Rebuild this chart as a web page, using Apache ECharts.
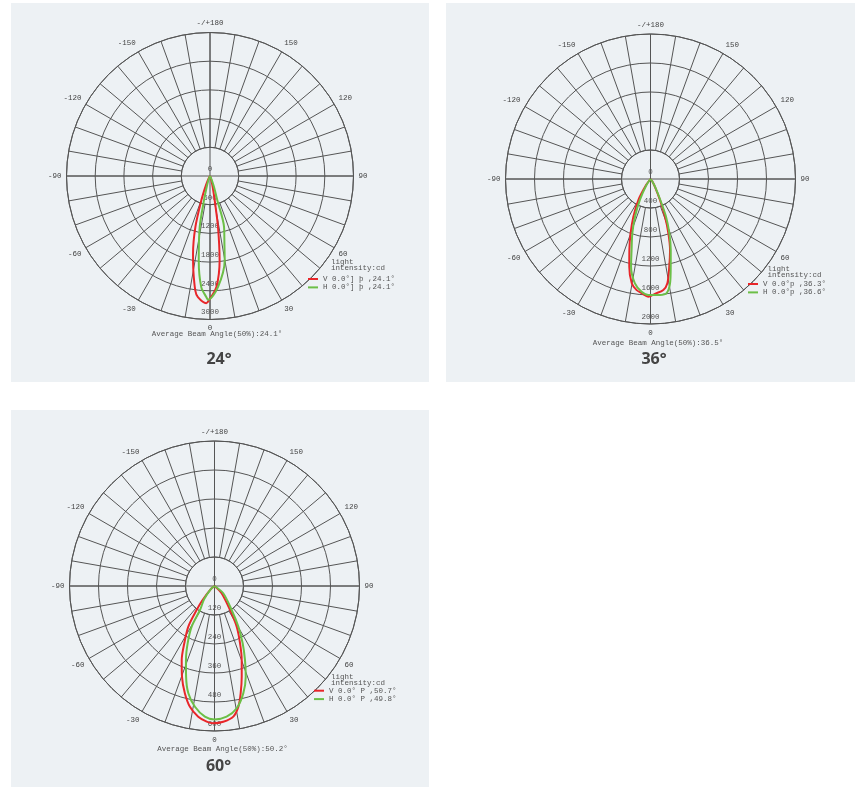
<!DOCTYPE html>
<html><head><meta charset="utf-8">
<script src="https://cdn.jsdelivr.net/npm/echarts@6/dist/echarts.min.js"></script>
<style>
html,body{margin:0;padding:0;background:#fff}
.panel{position:absolute;background:#edf1f4}
#c{position:absolute;left:0;top:0;width:855px;height:787px}
</style>
</head><body>
<div class="panel" style="left:11px;top:3px;width:418px;height:379px"></div>
<div class="panel" style="left:446px;top:3px;width:409px;height:379px"></div>
<div class="panel" style="left:11px;top:410px;width:418px;height:377px"></div>
<div id="c"></div>
<script>
// ---- data ----
const radiusMax = [3000, 2000, 600];
const radiusStep = [600, 400, 120];
const titles = ['24°', '36°', '60°'];
const beamTexts = ['Average Beam Angle(50%):24.1°', 'Average Beam Angle(50%):36.5°', 'Average Beam Angle(50%):50.2°'];
const legendV = ['V 0.0°] þ ,24.1°', 'V 0.0°p ,36.3°', 'V 0.0° P ,50.7°'];
const legendH = ['H 0.0°] þ ,24.1°', 'H 0.0°p ,36.6°', 'H 0.0° P ,49.8°'];

const c1VAngles = [-90, -30, -26, -23, -19.6, -16, -12.3, -10, -7.3, -5.7, -1.7, -0.5, 3.3, 6.5, 8.9, 10.9, 13.6, 18, 25, 90];
const c1VCd     = [0, 40, 120, 250, 540, 1110, 1665, 2005, 2415, 2545, 2660, 2600, 2325, 1775, 1080, 520, 240, 80, 20, 0];
const c1HAngles = [-90, -26, -21, -16.8, -13.9, -11.4, -7.6, -4.5, -1.7, -0.9, 4.1, 9.9, 12, 15.4, 16.8, 20, 24, 30, 90];
const c1HCd     = [0, 20, 90, 240, 525, 1090, 1780, 2330, 2535, 2590, 2330, 1790, 1450, 1105, 530, 245, 80, 20, 0];

const c2VAngles = [-90, -36, -30, -24.5, -20.1, -16.6, -13.6, -10.2, -7.1, -4.4, -1.1, 2.2, 6.6, 9.2, 12.1, 15.4, 18.2, 21.1, 24.3, 30, 36, 90];
const c2VCd     = [0, 100, 335, 570, 800, 1020, 1245, 1460, 1545, 1580, 1625, 1585, 1540, 1455, 1235, 1015, 790, 555, 320, 120, 40, 0];
const c2HAngles = [-90, -34, -27, -22.4, -18.5, -14.9, -12.5, -8.5, -4.5, -1.1, 4.7, 8, 10.6, 13, 15.9, 19.1, 22.4, 25, 30, 36, 90];
const c2HCd     = [0, 100, 320, 560, 790, 1015, 1240, 1455, 1560, 1600, 1605, 1590, 1465, 1240, 1020, 795, 560, 320, 130, 40, 0];

const c3VAngles = [-90, -50, -40, -36.6, -32.8, -27.8, -23.9, -19.7, -15.4, -11.5, -7.1, -3.3, -0.5, 3.7, 8.2, 11.2, 13.7, 16.7, 20.2, 24, 28.6, 32.9, 44.4, 90];
const c3VCd     = [0, 20, 80, 124, 200, 268, 335, 399, 461, 510, 545, 562, 568, 563, 546, 509, 457, 392, 326, 260, 192, 118, 42, 0];
const c3HAngles = [-90, -50, -38, -31.1, -29.3, -25.1, -21.1, -17.4, -13.7, -9.2, -4.2, 0, 5.3, 10.3, 15, 19, 22.4, 26.2, 30.4, 35.6, 50.3, 90];
const c3HCd     = [0, 20, 70, 116, 193, 262, 328, 393, 457, 506, 542, 552, 543, 514, 460, 397, 331, 264, 195, 122, 47, 0];

const vSeries = [[c1VAngles, c1VCd], [c2VAngles, c2VCd], [c3VAngles, c3VCd]];
const hSeries = [[c1HAngles, c1HCd], [c2HAngles, c2HCd], [c3HAngles, c3HCd]];

// ---- layout ----
const layout = [
  {center: [210, 176], R: 143.5, beam: [151.7, 334.3], title: [219, 359.5], light: [331, 262.5], legend: [308, 274.8]},
  {center: [650.5, 179], R: 145, beam: [592.7, 342.7], title: [654, 359.5], light: [767.5, 269.3], legend: [748, 279.8]},
  {center: [214.5, 586], R: 145, beam: [157.3, 749], title: [218.5, 766], light: [331, 677.3], legend: [314, 686.5]}
];
const MONO = 'Liberation Mono, DejaVu Sans Mono, monospace';
const GRID = '#555';
const RED = '#e8262a', GREEN = '#6cbf47';

function angleFmt(v) {
  if (v % 30 !== 0 || v === 360) return '';
  if (v === 180) return '-/+180';
  if (v > 180) return String(v - 360);
  return String(v);
}
function toData(pair) {
  const [ang, cd] = pair;
  return ang.map((a, i) => [cd[i], (a + 360) % 360]);
}

const option = {animation: false, polar: [], angleAxis: [], radiusAxis: [], series: [], legend: [], graphic: []};
layout.forEach((L, k) => {
  const R = L.R;
  // spokes polar
  option.polar.push({center: L.center, radius: [R / 5, R]});
  option.angleAxis.push({
    polarIndex: 2 * k, type: 'value', min: 0, max: 360, interval: 10, startAngle: 270, clockwise: false,
    axisLine: {show: true, lineStyle: {color: GRID, width: 1}},
    axisTick: {show: false},
    splitLine: {show: true, lineStyle: {color: GRID, width: 1}},
    axisLabel: {show: true, margin: 5, color: '#444', fontSize: 7.5, fontFamily: MONO, formatter: angleFmt}
  });
  option.radiusAxis.push({polarIndex: 2 * k, type: 'value', min: 0, max: 1, show: false});
  // main polar
  option.polar.push({center: L.center, radius: [0, R]});
  option.angleAxis.push({
    polarIndex: 2 * k + 1, type: 'value', min: 0, max: 360, interval: 90, startAngle: 270, clockwise: false,
    axisLine: {show: false}, axisTick: {show: false}, axisLabel: {show: false},
    splitLine: {show: true, lineStyle: {color: GRID, width: 1}}
  });
  option.radiusAxis.push({
    polarIndex: 2 * k + 1, type: 'value', min: 0, max: radiusMax[k], interval: radiusStep[k],
    axisLine: {show: false}, axisTick: {show: false},
    splitLine: {show: true, lineStyle: {color: GRID, width: 1}},
    axisLabel: {show: true, margin: 0, align: 'center', verticalAlign: 'bottom', padding: [0, 0, 3, 0],
      color: '#555', fontSize: 7.5, fontFamily: MONO, formatter: v => String(v)}
  });
  option.series.push({
    type: 'line', coordinateSystem: 'polar', polarIndex: 2 * k + 1, name: legendV[k],
    data: toData(vSeries[k]), symbol: 'none', smooth: 0.3, z: 5,
    lineStyle: {color: RED, width: 2}, itemStyle: {color: RED}
  });
  option.series.push({
    type: 'line', coordinateSystem: 'polar', polarIndex: 2 * k + 1, name: legendH[k],
    data: toData(hSeries[k]), symbol: 'none', smooth: 0.3, z: 5,
    lineStyle: {color: GREEN, width: 2}, itemStyle: {color: GREEN}
  });
  option.legend.push({
    data: [legendV[k], legendH[k]], orient: 'vertical', left: L.legend[0], top: L.legend[1],
    icon: 'rect', itemWidth: 10, itemHeight: 2, itemGap: 0, padding: 0, selectedMode: false,
    textStyle: {fontSize: 7.5, fontFamily: MONO, color: '#555', lineHeight: 8.4}
  });
  option.graphic.push(
    {type: 'text', x: L.light[0], y: L.light[1], z: 10, style: {text: 'light', font: '7.5px ' + MONO, fill: '#555', textVerticalAlign: 'middle'}},
    {type: 'text', x: L.light[0], y: L.light[1] + 5.5, z: 10, style: {text: 'intensity:cd', font: '7.5px ' + MONO, fill: '#555', textVerticalAlign: 'middle'}},
    {type: 'text', x: L.beam[0], y: L.beam[1], z: 10, style: {text: beamTexts[k], font: '7.5px ' + MONO, fill: '#555', textVerticalAlign: 'middle'}},
    {type: 'text', x: L.title[0], y: L.title[1], z: 10, style: {text: titles[k], font: 'bold 16px "Open Sans", sans-serif', fill: '#444', textAlign: 'center', textVerticalAlign: 'middle'}}
  );
});

const chart = echarts.init(document.getElementById('c'), null, {renderer: 'canvas'});
chart.setOption(option);
</script>
</body></html>
